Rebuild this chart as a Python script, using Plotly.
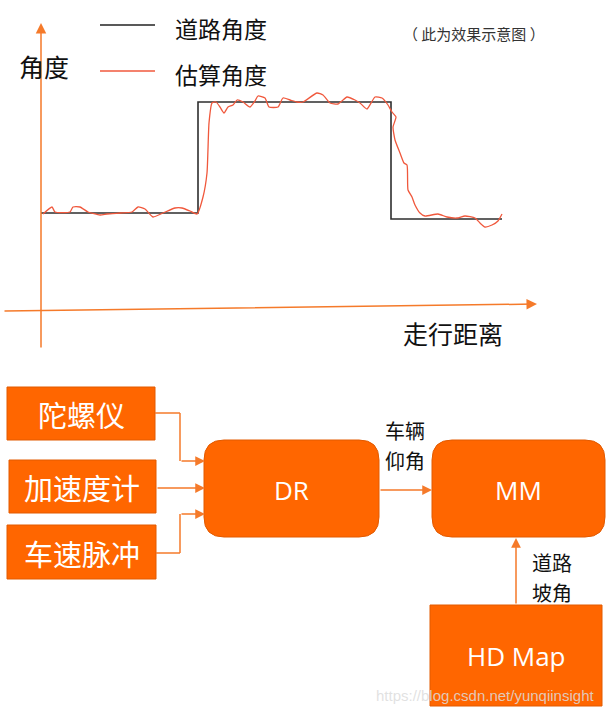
import plotly.graph_objects as go

# ---------------- data ----------------
series_names = ["道路角度", "估算角度"]
y_label = "角度"
x_label = "走行距离"
note_text = "（ 此为效果示意图 ）"

road_distance = [0, 157, 157, 350, 350, 461]
road_angle = [0, 0, 11.1, 11.1, -0.6, -0.6]

est_distance = [2, 11, 14, 29, 32, 39, 47, 59, 66, 79, 91, 97, 104, 112, 122, 134, 141, 149, 156,
                162, 166, 168, 171, 175, 179, 183, 187, 192, 196, 202, 209, 214, 217, 224, 228, 237,
                242, 249, 256, 262, 276, 282, 289, 297, 306, 314, 319, 326, 334, 341, 347, 351, 355,
                352, 354, 359, 363, 366, 367, 371, 374, 379, 384, 397, 406, 416, 424, 434, 439, 444,
                451, 457, 461]
est_angle = [-0.1, 0.6, 0.1, 0.1, 0.6, 0.6, 0.1, -0.2, -0.1, 0.0, 0.1, 0.6, 0.4, -0.4, 0.0, 0.5, 0.5, 0.2, -0.1,
             1.6, 4.0, 9.0, 11.0, 11.1, 10.6, 10.0, 10.6, 10.8, 11.3, 11.1, 10.6, 11.2, 11.7, 11.5, 10.6, 10.6,
             11.5, 11.3, 11.1, 11.1, 12.0, 11.8, 11.0, 10.9, 11.6, 11.3, 11.0, 10.4, 11.6, 11.5, 10.8, 10.1, 9.6,
             8.6, 7.3, 6.0, 5.0, 4.8, 2.3, 1.6, 0.8, 0.0, -0.3, -0.1, -0.4, -0.5, -0.3, -0.5, -1.0, -1.4,
             -1.2, -0.8, -0.1]

sensor_labels = ["陀螺仪", "加速度计", "车速脉冲"]
module_labels = ["DR", "MM", "HD Map"]
pitch_label = ["车辆", "仰角"]
slope_label = ["道路", "坡角"]
watermark = "https://blog.csdn.net/yunqiinsight"

# ---------------- style ----------------
W, H = 610, 715
ORANGE = "#ff6600"
ORANGE_LINE = "#f57a2a"
BORDER = "#e25a00"
RED = "#f0583c"
CJK = "Noto Sans CJK SC"
LAT = "Open Sans"

fig = go.Figure()

# chart traces (own axis, data units)
fig.add_trace(go.Scatter(x=road_distance, y=road_angle, mode="lines",
                         line=dict(color="#2e2e2e", width=1.6),
                         xaxis="x", yaxis="y", hoverinfo="skip", showlegend=False))
fig.add_trace(go.Scatter(x=est_distance, y=est_angle, mode="lines",
                         line=dict(color=RED, width=1.3, shape="spline", smoothing=0.5),
                         xaxis="x", yaxis="y", hoverinfo="skip", showlegend=False))

shapes = []
annotations = []


def seg(x0, y0, x1, y1, color=ORANGE_LINE, width=1.5):
    shapes.append(dict(type="line", xref="x2", yref="y2", x0=x0, y0=y0, x1=x1, y1=y1,
                       line=dict(color=color, width=width)))


def arrow(x0, y0, x1, y1, color=ORANGE_LINE, width=1.5, size=1.3):
    annotations.append(dict(x=x1, y=y1, ax=x0, ay=y0, xref="x2", yref="y2",
                            axref="x2", ayref="y2", text="", showarrow=True,
                            arrowhead=2, arrowsize=size, arrowwidth=width,
                            arrowcolor=color, standoff=0, startstandoff=0))


def text(x, y, s, size, color="#111111", family=CJK, anchor="center"):
    annotations.append(dict(x=x, y=y, xref="x2", yref="y2", text=s, showarrow=False,
                            xanchor=anchor, yanchor="middle",
                            font=dict(family=family, size=size, color=color)))


def rect(x0, y0, x1, y1):
    shapes.append(dict(type="rect", xref="x2", yref="y2", x0=x0, y0=y0, x1=x1, y1=y1,
                       fillcolor=ORANGE, line=dict(color=BORDER, width=1), layer="below"))


def rrect(x0, y0, x1, y1, r):
    p = (f"M{x0+r},{y0} L{x1-r},{y0} Q{x1},{y0} {x1},{y0+r} L{x1},{y1-r} "
         f"Q{x1},{y1} {x1-r},{y1} L{x0+r},{y1} Q{x0},{y1} {x0},{y1-r} "
         f"L{x0},{y0+r} Q{x0},{y0} {x0+r},{y0} Z")
    shapes.append(dict(type="path", xref="x2", yref="y2", path=p,
                       fillcolor=ORANGE, line=dict(color=BORDER, width=1), layer="below"))


# ---- top chart axes arrows ----
arrow(41, 349, 41, 23, size=1.4)
arrow(3, 311, 537, 304, size=1.4)

# legend
seg(100, 25, 155, 25, color="#222222", width=1.3)
seg(100, 71, 155, 71, color=RED, width=1.3)
text(173, 28, series_names[0], 23, anchor="left")
text(173, 74, series_names[1], 23, anchor="left")
text(44, 66, y_label, 25)
text(474, 33, note_text, 15, color="#333333")
text(453, 333, x_label, 25)

# ---- diagram ----
rect(7, 387, 155, 440)
rect(9, 460, 156, 513)
rect(7, 525, 156, 579)
rrect(204, 440, 379, 537, 20)
rrect(432, 440, 605, 537, 20)
rect(430, 605, 602, 706)

text(81, 414, sensor_labels[0], 29, color="white")
text(82, 487, sensor_labels[1], 29, color="white")
text(82, 553, sensor_labels[2], 29, color="white")
text(291, 490, module_labels[0], 26, color="white", family=LAT)
text(518, 490, module_labels[1], 26, color="white", family=LAT)
text(516, 656, module_labels[2], 26, color="white", family=LAT)

# sensor -> DR arrows
seg(155, 413, 180, 413)
seg(180, 413, 180, 461)
arrow(180, 461, 205, 461)
arrow(156, 488, 205, 488)
seg(156, 553, 180, 553)
seg(180, 553, 180, 514)
arrow(180, 514, 205, 514)
# DR -> MM
arrow(379, 490, 432, 490)
# HD Map -> MM
arrow(516, 605, 516, 538)

text(405, 430, pitch_label[0], 20)
text(405, 460, pitch_label[1], 20)
text(552, 562, slope_label[0], 20)
text(552, 592, slope_label[1], 20)

annotations.append(dict(x=485, y=695, xref="x2", yref="y2", text=watermark, showarrow=False,
                        xanchor="center", yanchor="middle",
                        font=dict(family="Liberation Sans", size=15, color="rgba(220,220,220,0.85)")))

hidden = dict(visible=False, showgrid=False, zeroline=False, fixedrange=True)
fig.update_layout(
    width=W, height=H,
    margin=dict(l=0, r=0, t=0, b=0),
    paper_bgcolor="white", plot_bgcolor="white",
    xaxis=dict(domain=[0, 1], range=[-41, W - 41], **hidden),
    yaxis=dict(domain=[0, 1], range=[(213 - H) / 10, 213 / 10], **hidden),
    xaxis2=dict(domain=[0, 1], range=[0, W], overlaying="x", anchor="y2", **hidden),
    yaxis2=dict(domain=[0, 1], range=[H, 0], overlaying="y", anchor="x2", **hidden),
    shapes=shapes,
    annotations=annotations,
    showlegend=False,
)

fig.write_html("out.html", config={"displayModeBar": False},
               post_script="document.body.style.margin='0';document.body.style.overflow='hidden';")
